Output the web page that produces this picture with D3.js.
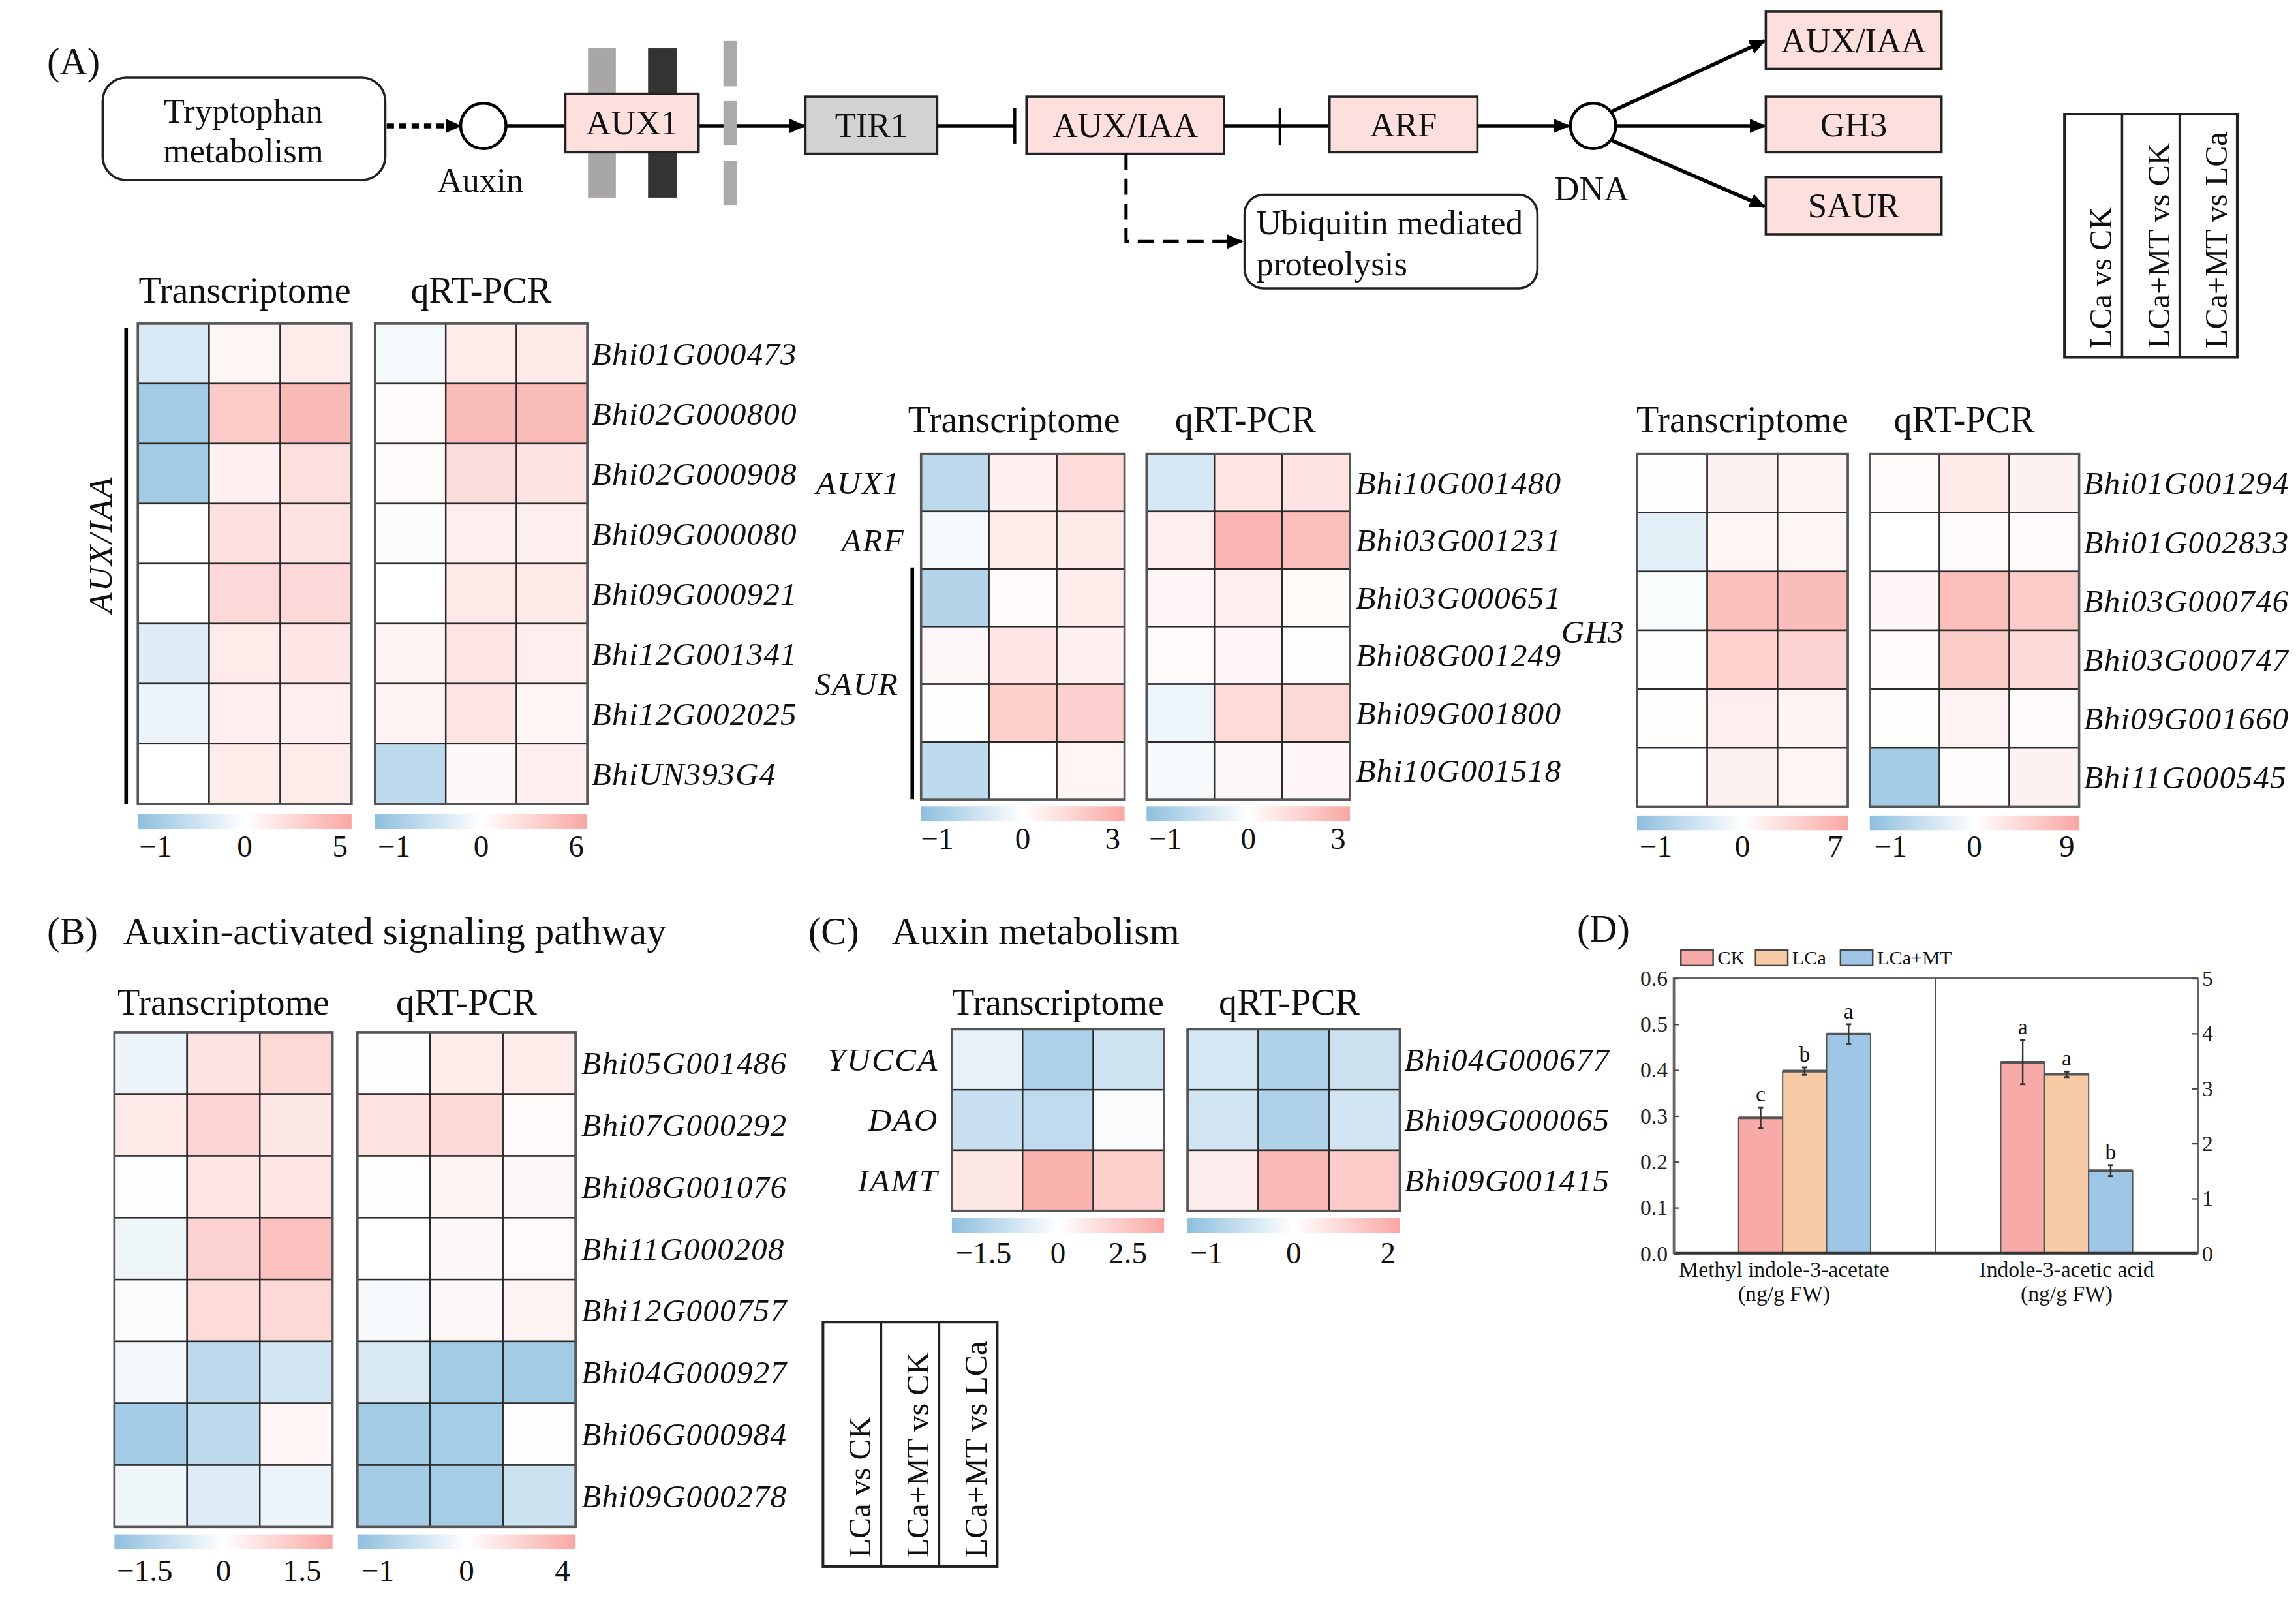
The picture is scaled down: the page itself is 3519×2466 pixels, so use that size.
<!DOCTYPE html>
<html>
<head>
<meta charset="utf-8">
<script src="https://cdn.jsdelivr.net/npm/d3@7"></script>
<style>
  html, body { margin: 0; padding: 0; background: #fff; }
  svg { display: block; font-family: "Liberation Serif", "Times New Roman", serif; }
</style>
</head>
<body>
<svg id="fig"></svg>
<script>
'use strict';

// ---- data ----
const comparisons = ['LCa vs CK', 'LCa+MT vs CK', 'LCa+MT vs LCa'];

const genesAuxIaa = ['Bhi01G000473', 'Bhi02G000800', 'Bhi02G000908', 'Bhi09G000080',
  'Bhi09G000921', 'Bhi12G001341', 'Bhi12G002025', 'BhiUN393G4'];
const transAuxIaa = [[-0.42, 0.6, 1.2], [-0.98, 3.3, 4.3], [-0.98, 0.9, 2.0], [0.0, 1.9, 1.8],
  [0.03, 2.4, 2.4], [-0.35, 1.3, 1.6], [-0.2, 1.1, 1.1], [0.0, 1.3, 1.3]];
const qpcrAuxIaa = [[-0.12, 1.5, 1.6], [0.35, 5.0, 5.1], [0.4, 2.6, 2.1], [-0.05, 1.2, 1.2],
  [0.0, 1.7, 1.6], [0.8, 2.0, 1.3], [0.8, 1.9, 0.7], [-0.7, 0.5, 1.2]];

const genesSaur = ['Bhi10G001480', 'Bhi03G001231', 'Bhi03G000651', 'Bhi08G001249', 'Bhi09G001800', 'Bhi10G001518'];
const transSaur = [[-0.7, 0.55, 1.4], [-0.12, 0.75, 0.8], [-0.8, 0.15, 0.75], [0.3, 0.95, 0.55],
  [0.05, 1.9, 1.8], [-0.68, 0.0, 0.4]];
const qpcrSaur = [[-0.45, 1.0, 1.1], [0.6, 2.9, 2.5], [0.35, 0.65, 0.25], [0.2, 0.35, 0.1],
  [-0.2, 1.4, 1.5], [-0.1, 0.3, 0.35]];

const genesGh3 = ['Bhi01G001294', 'Bhi01G002833', 'Bhi03G000746', 'Bhi03G000747', 'Bhi09G001660', 'Bhi11G000545'];
const transGh3 = [[0.05, 1.2, 1.0], [-0.3, 0.9, 0.9], [-0.06, 5.8, 6.0], [0.2, 4.2, 4.0],
  [0.3, 1.5, 1.0], [0.0, 1.2, 0.9]];
const qpcrGh3 = [[0.5, 2.4, 1.6], [0.0, 0.6, 0.5], [1.0, 7.5, 6.0], [0.6, 6.0, 4.3],
  [0.3, 1.4, 0.5], [-1.0, 0.4, 1.6]];

const genesSignal = ['Bhi05G001486', 'Bhi07G000292', 'Bhi08G001076', 'Bhi11G000208',
  'Bhi12G000757', 'Bhi04G000927', 'Bhi06G000984', 'Bhi09G000278'];
const transSignal = [[-0.35, 0.65, 0.9], [0.5, 1.0, 0.55], [-0.05, 0.6, 0.6], [-0.3, 1.05, 1.45],
  [-0.1, 0.85, 0.9], [-0.25, -1.2, -0.85], [-1.65, -1.2, 0.2], [-0.3, -0.65, -0.35]];
const qpcrSignal = [[0.1, 1.0, 1.0], [1.4, 2.0, 0.3], [0.1, 0.6, 0.4], [0.0, 0.35, 0.3],
  [-0.1, 0.4, 0.65], [-0.4, -1.0, -1.0], [-1.0, -0.97, 0.1], [-1.0, -0.97, -0.55]];

const genesMetab = ['Bhi04G000677', 'Bhi09G000065', 'Bhi09G001415'];
const familiesMetab = ['YUCCA', 'DAO', 'IAMT'];
const transMetab = [[-0.45, -1.55, -0.9], [-1.05, -1.2, -0.1], [1.0, 3.3, 2.1]];
const qpcrMetab = [[-0.45, -0.85, -0.55], [-0.5, -0.85, -0.5], [0.45, 1.75, 1.3]];

// colour-key extents and their tick labels
const rangeAuxIaaT = [-1.2, 5.6], ticksAuxIaaT = [-1, 0, 5];
const rangeAuxIaaQ = [-1.22, 6.7], ticksAuxIaaQ = [-1, 0, 6];
const rangeSaurT = [-1.19, 3.4], ticksSaurT = [-1, 0, 3];
const rangeSaurQ = [-1.23, 3.4], ticksSaurQ = [-1, 0, 3];
const rangeGh3T = [-1.22, 7.95], ticksGh3T = [-1, 0, 7];
const rangeGh3Q = [-1.25, 10.2], ticksGh3Q = [-1, 0, 9];
const rangeSignalT = [-2.08, 2.08], ticksSignalT = [-1.5, 0, 1.5];
const rangeSignalQ = [-1.23, 4.55], ticksSignalQ = [-1, 0, 4];
const rangeMetabT = [-2.14, 3.8], ticksMetabT = [-1.5, 0, 2.5];
const rangeMetabQ = [-1.22, 2.25], ticksMetabQ = [-1, 0, 2];

// panel D
const hormones = ['Methyl indole-3-acetate', 'Indole-3-acetic acid'];
const treatments = ['CK', 'LCa', 'LCa+MT'];
const hormoneMeans = [[0.295, 0.397, 0.478], [3.47, 3.25, 1.50]];
const hormoneErrs = [[0.023, 0.008, 0.021], [0.40, 0.05, 0.10]];
const hormoneLetters = [['c', 'b', 'a'], ['a', 'a', 'b']];
const leftTicks = [0, 0.1, 0.2, 0.3, 0.4, 0.5, 0.6];
const rightTicks = [0, 1, 2, 3, 4, 5];

// ---- drawing ----
const BLUE = '#8ebfdf', RED = '#f9a7a3', PINK = '#fde0dd';
const treatColor = d3.scaleOrdinal().domain(treatments).range(['#f8aaa8', '#f6cba6', '#9fc6e6']);
const minus = v => String(v).replace('-', '\u2212');

const svg = d3.select('#fig')
  .attr('width', 3519).attr('height', 2466)
  .attr('viewBox', '0 0 1568 1099');
const defs = svg.append('defs');
defs.append('marker')
  .attr('id', 'arrow').attr('viewBox', '0 0 10 10')
  .attr('refX', 9).attr('refY', 5)
  .attr('markerUnits', 'userSpaceOnUse')
  .attr('markerWidth', 11).attr('markerHeight', 11)
  .attr('orient', 'auto')
  .append('path').attr('d', 'M0,0.5 L10,5 L0,9.5 Z').attr('fill', '#000');

function txt(g, x, y, s, size, opts = {}) {
  return g.append('text')
    .attr('x', x).attr('y', y)
    .attr('font-size', size)
    .attr('text-anchor', opts.anchor || 'start')
    .attr('font-style', opts.italic ? 'italic' : null)
    .attr('letter-spacing', opts.spacing || null)
    .attr('fill', '#111')
    .text(s);
}

// pathway diagram
const path = svg.append('g').attr('class', 'pathway');
function line(x1, y1, x2, y2, w, arrow, dash) {
  return path.append('line')
    .attr('x1', x1).attr('y1', y1).attr('x2', x2).attr('y2', y2)
    .attr('stroke', '#000').attr('stroke-width', w)
    .attr('stroke-dasharray', dash || null)
    .attr('marker-end', arrow ? 'url(#arrow)' : null);
}
function box(x0, y0, x1, y1, fill, label) {
  path.append('rect')
    .attr('x', x0).attr('y', y0).attr('width', x1 - x0).attr('height', y1 - y0)
    .attr('fill', fill).attr('stroke', '#222').attr('stroke-width', 1.6);
  if (label) txt(path, (x0 + x1) / 2, (y0 + y1) / 2 + 8, label, 23.5, { anchor: 'middle' });
}

txt(svg, 32, 51, '(A)', 26);

path.append('rect').attr('x', 70).attr('y', 53).attr('width', 193).attr('height', 70).attr('rx', 16)
  .attr('fill', '#fff').attr('stroke', '#222').attr('stroke-width', 1.6);
txt(path, 166, 84, 'Tryptophan', 23.5, { anchor: 'middle' });
txt(path, 166, 111, 'metabolism', 23.5, { anchor: 'middle' });
line(264, 86, 314, 86, 3.4, true, '5,3.5');
path.append('circle').attr('cx', 330).attr('cy', 86).attr('r', 15.5)
  .attr('fill', '#fff').attr('stroke', '#000').attr('stroke-width', 2);
txt(path, 328, 131, 'Auxin', 23.5, { anchor: 'middle' });

line(345.5, 86, 386, 86, 2.5);
line(477, 86, 549, 86, 2.5, true);
path.append('rect').attr('x', 401.5).attr('y', 33).attr('width', 19).attr('height', 102).attr('fill', '#a9a6a6');
path.append('rect').attr('x', 442.5).attr('y', 33).attr('width', 19.5).attr('height', 102).attr('fill', '#333');
[[28, 59], [69, 99], [110, 140]].forEach(s =>
  path.append('rect').attr('x', 494).attr('y', s[0]).attr('width', 9).attr('height', s[1] - s[0]).attr('fill', '#aaa'));
box(386, 64, 477, 104, PINK, 'AUX1');

box(550, 66, 640, 105, '#d3d2d2', 'TIR1');
line(640, 86, 693, 86, 2.5);
line(693, 74, 693, 98, 2);
box(701, 66, 836, 105, PINK, 'AUX/IAA');
line(836, 86, 908, 86, 2.5);
line(874, 74, 874, 99, 1.5);
box(908, 66, 1009, 104, PINK, 'ARF');
line(1009, 86, 1071, 86, 2.5, true);
path.append('circle').attr('cx', 1088).attr('cy', 86).attr('r', 15.5)
  .attr('fill', '#fff').attr('stroke', '#000').attr('stroke-width', 2);
txt(path, 1087, 137, 'DNA', 23.5, { anchor: 'middle' });
line(1101, 76, 1205, 28, 2.5, true);
line(1104, 86, 1205, 86, 2.5, true);
line(1101, 96, 1205, 141, 2.5, true);
box(1206, 8, 1326, 47, PINK, 'AUX/IAA');
box(1206, 66, 1326, 104, PINK, 'GH3');
box(1206, 121, 1326, 160, PINK, 'SAUR');

path.append('path').attr('d', 'M769,105 V165 H848')
  .attr('fill', 'none').attr('stroke', '#000').attr('stroke-width', 2.2)
  .attr('stroke-dasharray', '11,6').attr('marker-end', 'url(#arrow)');
path.append('rect').attr('x', 850).attr('y', 133).attr('width', 200).attr('height', 64).attr('rx', 13)
  .attr('fill', '#fff').attr('stroke', '#222').attr('stroke-width', 1.6);
txt(path, 858, 160, 'Ubiquitin mediated', 23.5);
txt(path, 858, 188, 'proteolysis', 23.5);

// column key boxes
function key(x0, x1, y0, y1) {
  const g = svg.append('g');
  const xs = d3.scaleBand().domain(comparisons).range([x0, x1]);
  g.append('rect').attr('x', x0).attr('y', y0).attr('width', x1 - x0).attr('height', y1 - y0)
    .attr('fill', '#fff').attr('stroke', '#222').attr('stroke-width', 1.8);
  comparisons.slice(1).forEach(c =>
    g.append('line').attr('x1', xs(c)).attr('x2', xs(c)).attr('y1', y0).attr('y2', y1)
      .attr('stroke', '#222').attr('stroke-width', 1.6));
  comparisons.forEach(c => {
    const cx = xs(c) + xs.bandwidth() / 2 + 12.5, cy = y1 - 6;
    g.append('text').attr('transform', `translate(${cx},${cy}) rotate(-90)`)
      .attr('font-size', 21.5).attr('fill', '#111').text(c);
  });
}
key(1410, 1528, 78, 244);
key(562, 681, 903, 1070);

// heatmaps
function heat(g, genes, values, range, ticks, x0, x1, y0, y1, cbY, tickY, title, titleY, titleShift) {
  const xs = d3.scaleBand().domain(comparisons).range([x0, x1]);
  const ys = d3.scaleBand().domain(genes).range([y0, y1]);
  const color = d3.scaleLinear().domain([range[0], 0, range[1]]).range([BLUE, '#ffffff', RED]);
  const pos = d3.scaleLinear().domain([range[0], 0, range[1]]).range([x0, (x0 + x1) / 2, x1]);
  const cells = values.flatMap((row, i) => row.map((v, j) => ({ gene: genes[i], col: comparisons[j], v })));
  g.selectAll(null).data(cells).join('rect')
    .attr('x', d => xs(d.col)).attr('y', d => ys(d.gene))
    .attr('width', xs.bandwidth()).attr('height', ys.bandwidth())
    .attr('fill', d => color(d.v))
    .attr('stroke', '#2a2a2a').attr('stroke-width', 1.1);
  g.append('rect').attr('x', x0).attr('y', y0).attr('width', x1 - x0).attr('height', y1 - y0)
    .attr('fill', 'none').attr('stroke', '#555').attr('stroke-width', 1.6);

  const id = 'grad' + Math.round(x0) + '_' + Math.round(y0);
  const grad = defs.append('linearGradient').attr('id', id);
  [[0, BLUE], [0.5, '#ffffff'], [1, RED]].forEach(s =>
    grad.append('stop').attr('offset', s[0]).attr('stop-color', s[1]));
  g.append('rect').attr('x', x0).attr('y', cbY).attr('width', x1 - x0).attr('height', 10)
    .attr('fill', `url(#${id})`);
  ticks.forEach(t => txt(g, pos(t), tickY, minus(t), 21, { anchor: 'middle' }));
  txt(g, (x0 + x1) / 2 + (titleShift || 0), titleY, title, 25, { anchor: 'middle' });
  return ys;
}

function block(genes, trans, qpcr, rt, tt, rq, tq, tx, qx, y, cbY, tickY, titleY, labelX, shifts) {
  const g = svg.append('g');
  const sh = shifts || [0, 0];
  heat(g, genes, trans, rt, tt, tx[0], tx[1], y[0], y[1], cbY, tickY, 'Transcriptome', titleY, sh[0]);
  const ys = heat(g, genes, qpcr, rq, tq, qx[0], qx[1], y[0], y[1], cbY, tickY, 'qRT-PCR', titleY, sh[1]);
  genes.forEach(gn => txt(g, labelX, ys(gn) + ys.bandwidth() / 2 + 7.5, gn, 22, { italic: true, spacing: 0.5 }));
  return { g, ys };
}

const bA1 = block(genesAuxIaa, transAuxIaa, qpcrAuxIaa, rangeAuxIaaT, ticksAuxIaaT, rangeAuxIaaQ, ticksAuxIaaQ,
  [94, 240], [256, 401], [221, 549], 556, 585, 207, 404);
bA1.g.append('line').attr('x1', 86).attr('x2', 86).attr('y1', 224).attr('y2', 549)
  .attr('stroke', '#000').attr('stroke-width', 2.5);
bA1.g.append('text').attr('transform', 'translate(76,372) rotate(-90)')
  .attr('text-anchor', 'middle').attr('font-size', 23).attr('font-style', 'italic')
  .attr('letter-spacing', 1).attr('fill', '#111').text('AUX/IAA');

const bA2 = block(genesSaur, transSaur, qpcrSaur, rangeSaurT, ticksSaurT, rangeSaurQ, ticksSaurQ,
  [629, 768], [783, 922], [310, 546], 551, 580, 295, 926, [-6, -2]);
const ysA2 = bA2.ys, mid = gn => ysA2(gn) + ysA2.bandwidth() / 2;
txt(bA2.g, 615, mid(genesSaur[0]) + 7.5, 'AUX1', 22, { anchor: 'end', italic: true, spacing: 1 });
txt(bA2.g, 618, mid(genesSaur[1]) + 7.5, 'ARF', 22, { anchor: 'end', italic: true, spacing: 1 });
txt(bA2.g, 614, (mid(genesSaur[2]) + mid(genesSaur[5])) / 2 + 7.5, 'SAUR', 22, { anchor: 'end', italic: true, spacing: 1 });
bA2.g.append('line').attr('x1', 623).attr('x2', 623).attr('y1', ysA2(genesSaur[2]) - 1).attr('y2', 546)
  .attr('stroke', '#000').attr('stroke-width', 2.5);

const bA3 = block(genesGh3, transGh3, qpcrGh3, rangeGh3T, ticksGh3T, rangeGh3Q, ticksGh3Q,
  [1118, 1262], [1277, 1420], [310, 551], 557, 585, 295, 1423, [0, -7]);
txt(bA3.g, 1109, 439, 'GH3', 22, { anchor: 'end', italic: true });

txt(svg, 32, 645, '(B)', 26);
txt(svg, 84, 645, 'Auxin-activated signaling pathway', 26.5);
block(genesSignal, transSignal, qpcrSignal, rangeSignalT, ticksSignalT, rangeSignalQ, ticksSignalQ,
  [78, 227], [244, 393], [705, 1043], 1048, 1080, 693, 397);

txt(svg, 552, 645, '(C)', 26);
txt(svg, 609, 645, 'Auxin metabolism', 26.5);
const bC = block(genesMetab, transMetab, qpcrMetab, rangeMetabT, ticksMetabT, rangeMetabQ, ticksMetabQ,
  [650, 795], [811, 956], [703, 827], 832, 863, 693, 959, [0, -3]);
familiesMetab.forEach((f, i) =>
  txt(bC.g, 641, bC.ys(genesMetab[i]) + bC.ys.bandwidth() / 2 + 7.5, f, 22, { anchor: 'end', italic: true, spacing: 1 }));

// panel D: bar chart
txt(svg, 1077, 643, '(D)', 26);
const d = svg.append('g');
const px0 = 1143, px1 = 1501, py0 = 668, py1 = 856;
const xG = d3.scaleBand().domain(hormones).range([px0, px1]);
const xT = d3.scaleBand().domain(treatments).range([0, xG.bandwidth()]).paddingInner(0).paddingOuter(1.48);
const yL = d3.scaleLinear().domain([0, 0.6]).range([py1, py0]);
const yR = d3.scaleLinear().domain([0, 5]).range([py1, py0]);
const yFor = [yL, yR];

d.append('rect').attr('x', px0).attr('y', py0).attr('width', px1 - px0).attr('height', py1 - py0)
  .attr('fill', 'none').attr('stroke', '#666').attr('stroke-width', 1.2);
d.append('line').attr('x1', xG(hormones[1])).attr('x2', xG(hormones[1])).attr('y1', py0).attr('y2', py1)
  .attr('stroke', '#555').attr('stroke-width', 1.1);

hormones.forEach((h, gi) => {
  const y = yFor[gi];
  treatments.forEach((t, ti) => {
    const v = hormoneMeans[gi][ti], e = hormoneErrs[gi][ti];
    const bx = xG(h) + xT(t), bw = xT.bandwidth(), cx = bx + bw / 2;
    d.append('rect').attr('x', bx).attr('y', y(v)).attr('width', bw).attr('height', y(0) - y(v))
      .attr('fill', treatColor(t)).attr('stroke', '#555').attr('stroke-width', 0.9);
    d.append('line').attr('x1', bx).attr('x2', bx + bw).attr('y1', y(v)).attr('y2', y(v))
      .attr('stroke', '#555').attr('stroke-width', 1.8);
    d.append('line').attr('x1', cx).attr('x2', cx).attr('y1', y(v + e)).attr('y2', y(v - e))
      .attr('stroke', '#333').attr('stroke-width', 1.1);
    [v + e, v - e].forEach(w => d.append('line').attr('x1', cx - 1.8).attr('x2', cx + 1.8)
      .attr('y1', y(w)).attr('y2', y(w)).attr('stroke', '#333').attr('stroke-width', 1.3));
    txt(d, cx, y(v + e) - 4, hormoneLetters[gi][ti], 15, { anchor: 'middle' });
  });
  const lx = xG(h) + xG.bandwidth() / 2 - (gi ? 0 : 14);
  txt(d, lx, 872, h, 15, { anchor: 'middle' });
  txt(d, lx, 888.5, '(ng/g FW)', 15, { anchor: 'middle' });
});
d.append('line').attr('x1', px0).attr('x2', px1).attr('y1', py1).attr('y2', py1)
  .attr('stroke', '#333').attr('stroke-width', 1.8);

const axL = d.append('g').attr('transform', `translate(${px0},0)`)
  .call(d3.axisLeft(yL).tickValues(leftTicks).tickFormat(d3.format('.1f')).tickSizeInner(-4).tickSizeOuter(0).tickPadding(4));
const axR = d.append('g').attr('transform', `translate(${px1},0)`)
  .call(d3.axisRight(yR).tickValues(rightTicks).tickFormat(d3.format('d')).tickSizeInner(-4).tickSizeOuter(0).tickPadding(3));
[axL, axR].forEach(a => {
  a.select('.domain').attr('stroke', '#666').attr('stroke-width', 1.2);
  a.selectAll('.tick line').attr('stroke', '#444');
  a.selectAll('.tick text').attr('font-size', 15).attr('fill', '#222')
    .attr('font-family', '"Liberation Serif", "Times New Roman", serif');
});

// legend D
const legX = [1148, 1199, 1257];
treatments.forEach((t, i) => {
  d.append('rect').attr('x', legX[i]).attr('y', 649).attr('width', 22).attr('height', 10.5)
    .attr('fill', treatColor(t)).attr('stroke', '#444').attr('stroke-width', 1.1);
  txt(d, legX[i] + 25, 658.5, t, 13.5);
});
</script>
</body>
</html>
